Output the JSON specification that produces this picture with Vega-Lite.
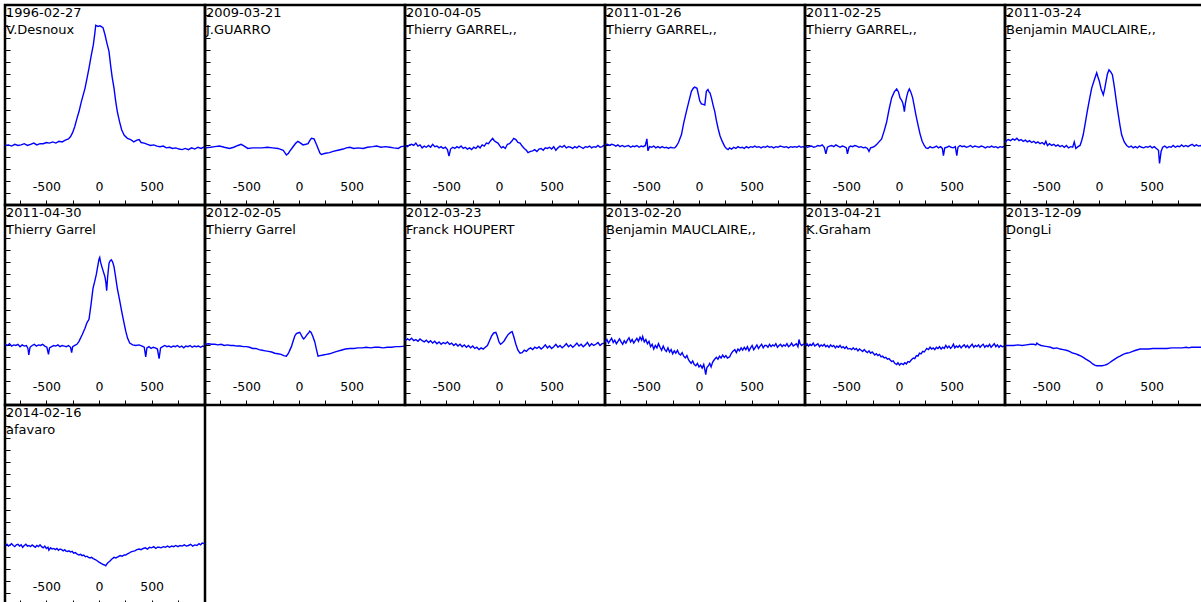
{
"$schema":"https://vega.github.io/schema/vega-lite/v6.json",
"padding":{"left":1,"top":3,"right":0,"bottom":0},
"background":"white",
"data":{"values":[
{"p":1,"d":"1996-02-27","n":"V.Desnoux"},
{"p":2,"d":"2009-03-21","n":"J.GUARRO"},
{"p":3,"d":"2010-04-05","n":"Thierry GARREL,,"},
{"p":4,"d":"2011-01-26","n":"Thierry GARREL,,"},
{"p":5,"d":"2011-02-25","n":"Thierry GARREL,,"},
{"p":6,"d":"2011-03-24","n":"Benjamin MAUCLAIRE,,"},
{"p":7,"d":"2011-04-30","n":"Thierry Garrel"},
{"p":8,"d":"2012-02-05","n":"Thierry Garrel"},
{"p":9,"d":"2012-03-23","n":"Franck HOUPERT"},
{"p":10,"d":"2013-02-20","n":"Benjamin MAUCLAIRE,,"},
{"p":11,"d":"2013-04-21","n":"K.Graham"},
{"p":12,"d":"2013-12-09","n":"DongLi"},
{"p":13,"d":"2014-02-16","n":"afavaro"},
{"p":1,"x":-890,"y":1.00},{"p":1,"x":-860,"y":1.01},{"p":1,"x":-830,"y":0.99},{"p":1,"x":-800,"y":1.02},{"p":1,"x":-770,"y":1.00},{"p":1,"x":-740,"y":1.01},{"p":1,"x":-710,"y":1.03},{"p":1,"x":-680,"y":1.00},{"p":1,"x":-650,"y":1.02},{"p":1,"x":-620,"y":1.04},{"p":1,"x":-590,"y":1.01},{"p":1,"x":-560,"y":1.03},{"p":1,"x":-530,"y":1.03},{"p":1,"x":-500,"y":1.05},{"p":1,"x":-470,"y":1.04},{"p":1,"x":-440,"y":1.06},{"p":1,"x":-410,"y":1.04},{"p":1,"x":-380,"y":1.07},{"p":1,"x":-350,"y":1.06},{"p":1,"x":-320,"y":1.09},{"p":1,"x":-290,"y":1.11},{"p":1,"x":-270,"y":1.15},{"p":1,"x":-250,"y":1.22},{"p":1,"x":-230,"y":1.32},{"p":1,"x":-210,"y":1.45},{"p":1,"x":-190,"y":1.57},{"p":1,"x":-170,"y":1.72},{"p":1,"x":-150,"y":1.85},{"p":1,"x":-133,"y":1.96},{"p":1,"x":-115,"y":2.12},{"p":1,"x":-95,"y":2.30},{"p":1,"x":-75,"y":2.50},{"p":1,"x":-54,"y":2.69},{"p":1,"x":-40,"y":2.88},{"p":1,"x":-31,"y":3.02},{"p":1,"x":-10,"y":3.00},{"p":1,"x":10,"y":3.01},{"p":1,"x":38,"y":2.98},{"p":1,"x":57,"y":2.86},{"p":1,"x":75,"y":2.72},{"p":1,"x":95,"y":2.58},{"p":1,"x":110,"y":2.35},{"p":1,"x":125,"y":2.15},{"p":1,"x":143,"y":1.96},{"p":1,"x":158,"y":1.75},{"p":1,"x":174,"y":1.57},{"p":1,"x":195,"y":1.40},{"p":1,"x":216,"y":1.26},{"p":1,"x":240,"y":1.17},{"p":1,"x":270,"y":1.12},{"p":1,"x":300,"y":1.10},{"p":1,"x":330,"y":1.06},{"p":1,"x":360,"y":1.09},{"p":1,"x":381,"y":1.10},{"p":1,"x":400,"y":1.05},{"p":1,"x":430,"y":1.04},{"p":1,"x":460,"y":1.02},{"p":1,"x":490,"y":1.00},{"p":1,"x":520,"y":1.01},{"p":1,"x":550,"y":0.99},{"p":1,"x":580,"y":0.98},{"p":1,"x":610,"y":0.99},{"p":1,"x":640,"y":0.96},{"p":1,"x":670,"y":0.97},{"p":1,"x":700,"y":0.95},{"p":1,"x":730,"y":0.96},{"p":1,"x":760,"y":0.94},{"p":1,"x":790,"y":0.93},{"p":1,"x":820,"y":0.95},{"p":1,"x":850,"y":0.93},{"p":1,"x":880,"y":0.96},{"p":1,"x":910,"y":0.94},{"p":1,"x":940,"y":0.97},{"p":1,"x":970,"y":0.95},{"p":1,"x":1005,"y":0.98},
{"p":2,"x":-890,"y":0.96},{"p":2,"x":-840,"y":0.97},{"p":2,"x":-800,"y":0.98},{"p":2,"x":-755,"y":0.99},{"p":2,"x":-710,"y":0.97},{"p":2,"x":-660,"y":0.95},{"p":2,"x":-620,"y":0.97},{"p":2,"x":-580,"y":1.00},{"p":2,"x":-550,"y":1.02},{"p":2,"x":-520,"y":0.99},{"p":2,"x":-486,"y":0.95},{"p":2,"x":-440,"y":0.96},{"p":2,"x":-400,"y":0.96},{"p":2,"x":-350,"y":0.96},{"p":2,"x":-300,"y":0.97},{"p":2,"x":-250,"y":0.96},{"p":2,"x":-200,"y":0.95},{"p":2,"x":-150,"y":0.92},{"p":2,"x":-120,"y":0.84},{"p":2,"x":-100,"y":0.87},{"p":2,"x":-89,"y":0.90},{"p":2,"x":-60,"y":0.97},{"p":2,"x":-30,"y":1.04},{"p":2,"x":-10,"y":1.07},{"p":2,"x":15,"y":1.04},{"p":2,"x":38,"y":1.01},{"p":2,"x":65,"y":1.02},{"p":2,"x":86,"y":1.03},{"p":2,"x":105,"y":1.09},{"p":2,"x":118,"y":1.12},{"p":2,"x":143,"y":1.11},{"p":2,"x":165,"y":1.02},{"p":2,"x":181,"y":0.95},{"p":2,"x":200,"y":0.87},{"p":2,"x":213,"y":0.85},{"p":2,"x":250,"y":0.87},{"p":2,"x":290,"y":0.88},{"p":2,"x":324,"y":0.90},{"p":2,"x":370,"y":0.92},{"p":2,"x":420,"y":0.94},{"p":2,"x":450,"y":0.96},{"p":2,"x":483,"y":0.97},{"p":2,"x":520,"y":0.95},{"p":2,"x":560,"y":0.96},{"p":2,"x":610,"y":0.95},{"p":2,"x":650,"y":0.97},{"p":2,"x":700,"y":0.98},{"p":2,"x":737,"y":0.99},{"p":2,"x":780,"y":0.97},{"p":2,"x":820,"y":0.98},{"p":2,"x":864,"y":0.97},{"p":2,"x":900,"y":0.96},{"p":2,"x":943,"y":0.95},{"p":2,"x":970,"y":0.98},{"p":2,"x":1005,"y":0.99},
{"p":3,"x":-890,"y":1.00},{"p":3,"x":-870,"y":0.98},{"p":3,"x":-850,"y":1.01},{"p":3,"x":-830,"y":1.02},{"p":3,"x":-810,"y":1.00},{"p":3,"x":-790,"y":1.04},{"p":3,"x":-770,"y":0.99},{"p":3,"x":-750,"y":1.01},{"p":3,"x":-730,"y":0.96},{"p":3,"x":-710,"y":0.99},{"p":3,"x":-690,"y":0.97},{"p":3,"x":-670,"y":1.00},{"p":3,"x":-650,"y":0.97},{"p":3,"x":-630,"y":1.02},{"p":3,"x":-610,"y":0.98},{"p":3,"x":-590,"y":0.99},{"p":3,"x":-570,"y":0.96},{"p":3,"x":-550,"y":0.98},{"p":3,"x":-530,"y":0.95},{"p":3,"x":-510,"y":0.97},{"p":3,"x":-490,"y":0.93},{"p":3,"x":-475,"y":0.82},{"p":3,"x":-460,"y":0.94},{"p":3,"x":-440,"y":0.97},{"p":3,"x":-420,"y":0.95},{"p":3,"x":-400,"y":0.98},{"p":3,"x":-380,"y":0.96},{"p":3,"x":-360,"y":0.99},{"p":3,"x":-340,"y":0.95},{"p":3,"x":-320,"y":0.97},{"p":3,"x":-300,"y":0.94},{"p":3,"x":-280,"y":0.96},{"p":3,"x":-260,"y":0.93},{"p":3,"x":-240,"y":0.97},{"p":3,"x":-220,"y":0.95},{"p":3,"x":-200,"y":0.99},{"p":3,"x":-180,"y":0.96},{"p":3,"x":-160,"y":1.01},{"p":3,"x":-140,"y":0.99},{"p":3,"x":-120,"y":1.04},{"p":3,"x":-100,"y":1.03},{"p":3,"x":-80,"y":1.08},{"p":3,"x":-60,"y":1.12},{"p":3,"x":-45,"y":1.08},{"p":3,"x":-30,"y":1.06},{"p":3,"x":-10,"y":1.04},{"p":3,"x":10,"y":0.99},{"p":3,"x":23,"y":0.96},{"p":3,"x":40,"y":0.98},{"p":3,"x":60,"y":0.95},{"p":3,"x":80,"y":1.02},{"p":3,"x":100,"y":1.03},{"p":3,"x":120,"y":1.07},{"p":3,"x":140,"y":1.12},{"p":3,"x":160,"y":1.10},{"p":3,"x":180,"y":1.05},{"p":3,"x":200,"y":1.04},{"p":3,"x":220,"y":0.99},{"p":3,"x":240,"y":0.95},{"p":3,"x":260,"y":0.92},{"p":3,"x":276,"y":0.88},{"p":3,"x":300,"y":0.90},{"p":3,"x":320,"y":0.91},{"p":3,"x":340,"y":0.93},{"p":3,"x":360,"y":0.90},{"p":3,"x":380,"y":0.94},{"p":3,"x":400,"y":0.95},{"p":3,"x":420,"y":0.92},{"p":3,"x":440,"y":0.96},{"p":3,"x":460,"y":0.95},{"p":3,"x":480,"y":0.97},{"p":3,"x":500,"y":0.94},{"p":3,"x":520,"y":0.98},{"p":3,"x":540,"y":0.92},{"p":3,"x":560,"y":0.96},{"p":3,"x":580,"y":0.99},{"p":3,"x":600,"y":0.97},{"p":3,"x":620,"y":1.00},{"p":3,"x":640,"y":0.96},{"p":3,"x":660,"y":0.98},{"p":3,"x":680,"y":0.97},{"p":3,"x":700,"y":0.95},{"p":3,"x":720,"y":0.98},{"p":3,"x":740,"y":0.96},{"p":3,"x":760,"y":0.99},{"p":3,"x":780,"y":0.97},{"p":3,"x":800,"y":0.95},{"p":3,"x":820,"y":0.98},{"p":3,"x":840,"y":0.97},{"p":3,"x":860,"y":0.99},{"p":3,"x":880,"y":0.96},{"p":3,"x":900,"y":0.98},{"p":3,"x":920,"y":0.97},{"p":3,"x":940,"y":1.00},{"p":3,"x":960,"y":0.97},{"p":3,"x":980,"y":0.98},{"p":3,"x":1005,"y":1.01},
{"p":4,"x":-890,"y":1.01},{"p":4,"x":-870,"y":1.02},{"p":4,"x":-850,"y":1.00},{"p":4,"x":-830,"y":1.02},{"p":4,"x":-810,"y":1.01},{"p":4,"x":-790,"y":0.99},{"p":4,"x":-770,"y":1.01},{"p":4,"x":-750,"y":0.98},{"p":4,"x":-730,"y":1.00},{"p":4,"x":-710,"y":0.98},{"p":4,"x":-690,"y":0.99},{"p":4,"x":-670,"y":1.00},{"p":4,"x":-650,"y":0.97},{"p":4,"x":-630,"y":0.99},{"p":4,"x":-610,"y":0.98},{"p":4,"x":-590,"y":1.00},{"p":4,"x":-570,"y":0.97},{"p":4,"x":-550,"y":0.99},{"p":4,"x":-530,"y":0.98},{"p":4,"x":-510,"y":1.00},{"p":4,"x":-495,"y":1.11},{"p":4,"x":-485,"y":0.91},{"p":4,"x":-470,"y":0.98},{"p":4,"x":-450,"y":0.97},{"p":4,"x":-430,"y":0.99},{"p":4,"x":-410,"y":0.96},{"p":4,"x":-390,"y":0.98},{"p":4,"x":-370,"y":0.96},{"p":4,"x":-350,"y":0.98},{"p":4,"x":-330,"y":0.96},{"p":4,"x":-310,"y":0.97},{"p":4,"x":-290,"y":0.95},{"p":4,"x":-270,"y":0.97},{"p":4,"x":-250,"y":0.96},{"p":4,"x":-230,"y":0.96},{"p":4,"x":-215,"y":0.99},{"p":4,"x":-195,"y":1.05},{"p":4,"x":-180,"y":1.12},{"p":4,"x":-167,"y":1.18},{"p":4,"x":-145,"y":1.38},{"p":4,"x":-120,"y":1.57},{"p":4,"x":-95,"y":1.75},{"p":4,"x":-72,"y":1.91},{"p":4,"x":-55,"y":1.96},{"p":4,"x":-41,"y":1.98},{"p":4,"x":-19,"y":1.96},{"p":4,"x":-5,"y":1.85},{"p":4,"x":7,"y":1.75},{"p":4,"x":23,"y":1.70},{"p":4,"x":40,"y":1.69},{"p":4,"x":55,"y":1.68},{"p":4,"x":70,"y":1.91},{"p":4,"x":85,"y":1.94},{"p":4,"x":95,"y":1.90},{"p":4,"x":105,"y":1.88},{"p":4,"x":118,"y":1.80},{"p":4,"x":135,"y":1.67},{"p":4,"x":150,"y":1.57},{"p":4,"x":165,"y":1.42},{"p":4,"x":181,"y":1.29},{"p":4,"x":200,"y":1.16},{"p":4,"x":223,"y":1.06},{"p":4,"x":245,"y":0.98},{"p":4,"x":260,"y":0.95},{"p":4,"x":276,"y":0.93},{"p":4,"x":290,"y":0.96},{"p":4,"x":310,"y":0.94},{"p":4,"x":330,"y":0.97},{"p":4,"x":350,"y":0.95},{"p":4,"x":370,"y":0.98},{"p":4,"x":390,"y":0.96},{"p":4,"x":410,"y":0.97},{"p":4,"x":430,"y":0.95},{"p":4,"x":450,"y":0.98},{"p":4,"x":470,"y":0.96},{"p":4,"x":490,"y":0.98},{"p":4,"x":510,"y":0.97},{"p":4,"x":530,"y":0.99},{"p":4,"x":550,"y":0.97},{"p":4,"x":570,"y":0.98},{"p":4,"x":590,"y":0.96},{"p":4,"x":610,"y":0.98},{"p":4,"x":630,"y":0.97},{"p":4,"x":650,"y":0.99},{"p":4,"x":670,"y":0.97},{"p":4,"x":690,"y":0.98},{"p":4,"x":710,"y":0.96},{"p":4,"x":730,"y":0.98},{"p":4,"x":750,"y":0.97},{"p":4,"x":770,"y":0.99},{"p":4,"x":790,"y":0.98},{"p":4,"x":810,"y":0.97},{"p":4,"x":830,"y":0.98},{"p":4,"x":850,"y":0.96},{"p":4,"x":870,"y":0.98},{"p":4,"x":890,"y":0.97},{"p":4,"x":910,"y":0.98},{"p":4,"x":930,"y":0.97},{"p":4,"x":950,"y":0.99},{"p":4,"x":970,"y":0.97},{"p":4,"x":990,"y":0.98},{"p":4,"x":1005,"y":0.97},
{"p":5,"x":-890,"y":0.99},{"p":5,"x":-870,"y":0.97},{"p":5,"x":-850,"y":0.98},{"p":5,"x":-830,"y":0.99},{"p":5,"x":-810,"y":0.97},{"p":5,"x":-790,"y":0.98},{"p":5,"x":-770,"y":1.00},{"p":5,"x":-750,"y":0.99},{"p":5,"x":-730,"y":1.01},{"p":5,"x":-710,"y":0.97},{"p":5,"x":-695,"y":0.86},{"p":5,"x":-680,"y":0.97},{"p":5,"x":-660,"y":0.99},{"p":5,"x":-640,"y":1.00},{"p":5,"x":-620,"y":0.98},{"p":5,"x":-600,"y":1.01},{"p":5,"x":-580,"y":0.99},{"p":5,"x":-560,"y":0.97},{"p":5,"x":-540,"y":0.99},{"p":5,"x":-520,"y":0.98},{"p":5,"x":-500,"y":0.96},{"p":5,"x":-490,"y":0.86},{"p":5,"x":-475,"y":0.97},{"p":5,"x":-460,"y":0.99},{"p":5,"x":-440,"y":0.98},{"p":5,"x":-420,"y":1.00},{"p":5,"x":-400,"y":0.99},{"p":5,"x":-380,"y":0.97},{"p":5,"x":-360,"y":0.98},{"p":5,"x":-340,"y":0.96},{"p":5,"x":-320,"y":0.97},{"p":5,"x":-300,"y":0.95},{"p":5,"x":-285,"y":0.90},{"p":5,"x":-270,"y":0.96},{"p":5,"x":-250,"y":0.97},{"p":5,"x":-230,"y":0.99},{"p":5,"x":-210,"y":1.02},{"p":5,"x":-190,"y":1.06},{"p":5,"x":-165,"y":1.11},{"p":5,"x":-140,"y":1.25},{"p":5,"x":-118,"y":1.39},{"p":5,"x":-95,"y":1.60},{"p":5,"x":-70,"y":1.80},{"p":5,"x":-45,"y":1.90},{"p":5,"x":-22,"y":1.95},{"p":5,"x":-5,"y":1.90},{"p":5,"x":10,"y":1.80},{"p":5,"x":25,"y":1.76},{"p":5,"x":35,"y":1.72},{"p":5,"x":45,"y":1.64},{"p":5,"x":51,"y":1.57},{"p":5,"x":60,"y":1.70},{"p":5,"x":73,"y":1.82},{"p":5,"x":85,"y":1.90},{"p":5,"x":98,"y":1.95},{"p":5,"x":112,"y":1.90},{"p":5,"x":130,"y":1.80},{"p":5,"x":145,"y":1.66},{"p":5,"x":161,"y":1.51},{"p":5,"x":180,"y":1.35},{"p":5,"x":199,"y":1.20},{"p":5,"x":220,"y":1.07},{"p":5,"x":240,"y":1.00},{"p":5,"x":256,"y":0.96},{"p":5,"x":275,"y":0.95},{"p":5,"x":295,"y":0.98},{"p":5,"x":315,"y":0.96},{"p":5,"x":335,"y":0.97},{"p":5,"x":355,"y":0.99},{"p":5,"x":375,"y":0.96},{"p":5,"x":395,"y":0.98},{"p":5,"x":412,"y":0.95},{"p":5,"x":422,"y":0.83},{"p":5,"x":435,"y":0.96},{"p":5,"x":455,"y":0.97},{"p":5,"x":475,"y":0.99},{"p":5,"x":495,"y":0.97},{"p":5,"x":515,"y":0.96},{"p":5,"x":535,"y":0.98},{"p":5,"x":549,"y":0.83},{"p":5,"x":560,"y":0.97},{"p":5,"x":580,"y":1.00},{"p":5,"x":600,"y":0.98},{"p":5,"x":620,"y":0.99},{"p":5,"x":640,"y":0.97},{"p":5,"x":660,"y":0.98},{"p":5,"x":680,"y":1.00},{"p":5,"x":700,"y":0.97},{"p":5,"x":720,"y":0.99},{"p":5,"x":740,"y":0.98},{"p":5,"x":760,"y":0.97},{"p":5,"x":780,"y":0.99},{"p":5,"x":800,"y":0.98},{"p":5,"x":820,"y":0.96},{"p":5,"x":840,"y":0.98},{"p":5,"x":860,"y":0.97},{"p":5,"x":880,"y":0.99},{"p":5,"x":900,"y":0.97},{"p":5,"x":920,"y":0.98},{"p":5,"x":940,"y":0.96},{"p":5,"x":960,"y":0.98},{"p":5,"x":980,"y":0.97},{"p":5,"x":1005,"y":0.99},
{"p":6,"x":-890,"y":1.05},{"p":6,"x":-875,"y":1.09},{"p":6,"x":-860,"y":1.10},{"p":6,"x":-840,"y":1.08},{"p":6,"x":-820,"y":1.11},{"p":6,"x":-800,"y":1.09},{"p":6,"x":-780,"y":1.12},{"p":6,"x":-760,"y":1.08},{"p":6,"x":-740,"y":1.10},{"p":6,"x":-720,"y":1.07},{"p":6,"x":-700,"y":1.09},{"p":6,"x":-680,"y":1.06},{"p":6,"x":-660,"y":1.08},{"p":6,"x":-640,"y":1.05},{"p":6,"x":-620,"y":1.07},{"p":6,"x":-600,"y":1.04},{"p":6,"x":-580,"y":1.06},{"p":6,"x":-560,"y":1.03},{"p":6,"x":-540,"y":1.05},{"p":6,"x":-520,"y":1.02},{"p":6,"x":-505,"y":1.07},{"p":6,"x":-490,"y":1.00},{"p":6,"x":-470,"y":1.03},{"p":6,"x":-450,"y":1.00},{"p":6,"x":-430,"y":1.02},{"p":6,"x":-410,"y":0.99},{"p":6,"x":-390,"y":1.01},{"p":6,"x":-370,"y":0.98},{"p":6,"x":-350,"y":1.00},{"p":6,"x":-330,"y":0.97},{"p":6,"x":-310,"y":1.00},{"p":6,"x":-290,"y":0.96},{"p":6,"x":-270,"y":0.98},{"p":6,"x":-250,"y":0.97},{"p":6,"x":-235,"y":1.06},{"p":6,"x":-220,"y":0.95},{"p":6,"x":-200,"y":0.98},{"p":6,"x":-180,"y":1.00},{"p":6,"x":-165,"y":1.08},{"p":6,"x":-150,"y":1.18},{"p":6,"x":-130,"y":1.38},{"p":6,"x":-112,"y":1.57},{"p":6,"x":-90,"y":1.78},{"p":6,"x":-70,"y":1.96},{"p":6,"x":-45,"y":2.10},{"p":6,"x":-30,"y":2.18},{"p":6,"x":-22,"y":2.22},{"p":6,"x":-10,"y":2.15},{"p":6,"x":3,"y":2.08},{"p":6,"x":20,"y":1.95},{"p":6,"x":41,"y":1.85},{"p":6,"x":55,"y":1.96},{"p":6,"x":67,"y":2.08},{"p":6,"x":80,"y":2.20},{"p":6,"x":95,"y":2.27},{"p":6,"x":110,"y":2.24},{"p":6,"x":127,"y":2.19},{"p":6,"x":140,"y":2.05},{"p":6,"x":152,"y":1.91},{"p":6,"x":168,"y":1.70},{"p":6,"x":184,"y":1.51},{"p":6,"x":200,"y":1.33},{"p":6,"x":215,"y":1.18},{"p":6,"x":240,"y":1.06},{"p":6,"x":263,"y":1.00},{"p":6,"x":285,"y":0.97},{"p":6,"x":305,"y":0.99},{"p":6,"x":325,"y":0.96},{"p":6,"x":345,"y":0.98},{"p":6,"x":365,"y":0.96},{"p":6,"x":385,"y":0.99},{"p":6,"x":405,"y":0.97},{"p":6,"x":425,"y":0.96},{"p":6,"x":445,"y":0.98},{"p":6,"x":465,"y":0.97},{"p":6,"x":485,"y":0.99},{"p":6,"x":505,"y":0.96},{"p":6,"x":525,"y":0.98},{"p":6,"x":545,"y":0.95},{"p":6,"x":565,"y":0.92},{"p":6,"x":575,"y":0.70},{"p":6,"x":590,"y":0.90},{"p":6,"x":605,"y":0.97},{"p":6,"x":625,"y":0.99},{"p":6,"x":645,"y":0.96},{"p":6,"x":665,"y":0.98},{"p":6,"x":685,"y":0.97},{"p":6,"x":705,"y":1.00},{"p":6,"x":725,"y":0.97},{"p":6,"x":745,"y":0.99},{"p":6,"x":765,"y":0.98},{"p":6,"x":785,"y":1.01},{"p":6,"x":805,"y":0.98},{"p":6,"x":825,"y":1.00},{"p":6,"x":845,"y":0.98},{"p":6,"x":865,"y":1.00},{"p":6,"x":885,"y":1.02},{"p":6,"x":905,"y":0.99},{"p":6,"x":925,"y":1.01},{"p":6,"x":945,"y":0.99},{"p":6,"x":965,"y":1.00},{"p":6,"x":985,"y":0.98},{"p":6,"x":1005,"y":1.00},
{"p":7,"x":-890,"y":1.02},{"p":7,"x":-870,"y":1.00},{"p":7,"x":-850,"y":1.03},{"p":7,"x":-830,"y":0.99},{"p":7,"x":-810,"y":1.01},{"p":7,"x":-790,"y":1.00},{"p":7,"x":-770,"y":1.02},{"p":7,"x":-750,"y":0.98},{"p":7,"x":-730,"y":1.01},{"p":7,"x":-710,"y":0.99},{"p":7,"x":-690,"y":1.00},{"p":7,"x":-675,"y":0.95},{"p":7,"x":-667,"y":0.84},{"p":7,"x":-655,"y":0.97},{"p":7,"x":-635,"y":1.00},{"p":7,"x":-615,"y":1.02},{"p":7,"x":-595,"y":0.99},{"p":7,"x":-575,"y":1.01},{"p":7,"x":-555,"y":1.00},{"p":7,"x":-535,"y":1.02},{"p":7,"x":-515,"y":0.99},{"p":7,"x":-495,"y":0.97},{"p":7,"x":-480,"y":0.85},{"p":7,"x":-470,"y":0.96},{"p":7,"x":-450,"y":0.98},{"p":7,"x":-430,"y":1.00},{"p":7,"x":-410,"y":0.99},{"p":7,"x":-390,"y":1.01},{"p":7,"x":-370,"y":0.98},{"p":7,"x":-350,"y":1.00},{"p":7,"x":-330,"y":0.99},{"p":7,"x":-310,"y":0.98},{"p":7,"x":-290,"y":1.00},{"p":7,"x":-270,"y":0.97},{"p":7,"x":-260,"y":0.88},{"p":7,"x":-250,"y":0.98},{"p":7,"x":-230,"y":1.00},{"p":7,"x":-210,"y":1.02},{"p":7,"x":-190,"y":1.07},{"p":7,"x":-160,"y":1.18},{"p":7,"x":-133,"y":1.29},{"p":7,"x":-115,"y":1.38},{"p":7,"x":-95,"y":1.44},{"p":7,"x":-75,"y":1.70},{"p":7,"x":-57,"y":1.96},{"p":7,"x":-40,"y":2.08},{"p":7,"x":-26,"y":2.19},{"p":7,"x":-10,"y":2.35},{"p":7,"x":0,"y":2.45},{"p":7,"x":7,"y":2.48},{"p":7,"x":15,"y":2.40},{"p":7,"x":31,"y":2.30},{"p":7,"x":45,"y":2.22},{"p":7,"x":57,"y":2.15},{"p":7,"x":66,"y":2.05},{"p":7,"x":73,"y":1.92},{"p":7,"x":82,"y":2.15},{"p":7,"x":95,"y":2.38},{"p":7,"x":105,"y":2.42},{"p":7,"x":117,"y":2.44},{"p":7,"x":130,"y":2.40},{"p":7,"x":143,"y":2.32},{"p":7,"x":158,"y":2.15},{"p":7,"x":174,"y":1.96},{"p":7,"x":195,"y":1.77},{"p":7,"x":216,"y":1.57},{"p":7,"x":235,"y":1.40},{"p":7,"x":254,"y":1.24},{"p":7,"x":272,"y":1.12},{"p":7,"x":292,"y":1.04},{"p":7,"x":320,"y":1.01},{"p":7,"x":350,"y":1.00},{"p":7,"x":380,"y":1.01},{"p":7,"x":410,"y":0.99},{"p":7,"x":430,"y":0.97},{"p":7,"x":444,"y":0.81},{"p":7,"x":455,"y":0.96},{"p":7,"x":475,"y":0.98},{"p":7,"x":495,"y":0.95},{"p":7,"x":515,"y":0.97},{"p":7,"x":535,"y":0.96},{"p":7,"x":555,"y":0.94},{"p":7,"x":571,"y":0.78},{"p":7,"x":585,"y":0.96},{"p":7,"x":605,"y":0.98},{"p":7,"x":625,"y":1.00},{"p":7,"x":645,"y":0.98},{"p":7,"x":665,"y":0.99},{"p":7,"x":685,"y":0.97},{"p":7,"x":705,"y":0.99},{"p":7,"x":725,"y":0.98},{"p":7,"x":745,"y":1.00},{"p":7,"x":765,"y":0.97},{"p":7,"x":785,"y":0.99},{"p":7,"x":805,"y":0.96},{"p":7,"x":825,"y":0.99},{"p":7,"x":845,"y":0.98},{"p":7,"x":865,"y":1.00},{"p":7,"x":885,"y":0.97},{"p":7,"x":905,"y":0.99},{"p":7,"x":925,"y":0.98},{"p":7,"x":945,"y":0.99},{"p":7,"x":965,"y":0.97},{"p":7,"x":985,"y":0.99},{"p":7,"x":1005,"y":0.98},
{"p":8,"x":-890,"y":1.02},{"p":8,"x":-860,"y":1.03},{"p":8,"x":-830,"y":1.02},{"p":8,"x":-800,"y":1.02},{"p":8,"x":-770,"y":1.01},{"p":8,"x":-740,"y":1.02},{"p":8,"x":-710,"y":1.00},{"p":8,"x":-680,"y":1.01},{"p":8,"x":-650,"y":1.00},{"p":8,"x":-620,"y":1.00},{"p":8,"x":-590,"y":0.99},{"p":8,"x":-560,"y":0.99},{"p":8,"x":-530,"y":0.98},{"p":8,"x":-500,"y":0.98},{"p":8,"x":-470,"y":0.97},{"p":8,"x":-440,"y":0.95},{"p":8,"x":-410,"y":0.95},{"p":8,"x":-380,"y":0.93},{"p":8,"x":-350,"y":0.92},{"p":8,"x":-320,"y":0.91},{"p":8,"x":-290,"y":0.90},{"p":8,"x":-260,"y":0.89},{"p":8,"x":-230,"y":0.87},{"p":8,"x":-200,"y":0.86},{"p":8,"x":-170,"y":0.85},{"p":8,"x":-145,"y":0.83},{"p":8,"x":-120,"y":0.82},{"p":8,"x":-100,"y":0.87},{"p":8,"x":-85,"y":0.93},{"p":8,"x":-72,"y":0.98},{"p":8,"x":-55,"y":1.08},{"p":8,"x":-40,"y":1.16},{"p":8,"x":-25,"y":1.20},{"p":8,"x":-10,"y":1.21},{"p":8,"x":7,"y":1.22},{"p":8,"x":20,"y":1.18},{"p":8,"x":35,"y":1.13},{"p":8,"x":45,"y":1.11},{"p":8,"x":60,"y":1.14},{"p":8,"x":80,"y":1.19},{"p":8,"x":95,"y":1.22},{"p":8,"x":102,"y":1.24},{"p":8,"x":115,"y":1.22},{"p":8,"x":130,"y":1.16},{"p":8,"x":150,"y":1.06},{"p":8,"x":165,"y":0.94},{"p":8,"x":181,"y":0.82},{"p":8,"x":200,"y":0.83},{"p":8,"x":230,"y":0.84},{"p":8,"x":260,"y":0.85},{"p":8,"x":290,"y":0.86},{"p":8,"x":324,"y":0.88},{"p":8,"x":360,"y":0.90},{"p":8,"x":400,"y":0.92},{"p":8,"x":440,"y":0.94},{"p":8,"x":483,"y":0.95},{"p":8,"x":520,"y":0.95},{"p":8,"x":560,"y":0.96},{"p":8,"x":600,"y":0.96},{"p":8,"x":640,"y":0.97},{"p":8,"x":680,"y":0.96},{"p":8,"x":720,"y":0.97},{"p":8,"x":760,"y":0.97},{"p":8,"x":800,"y":0.96},{"p":8,"x":840,"y":0.97},{"p":8,"x":880,"y":0.97},{"p":8,"x":920,"y":0.98},{"p":8,"x":960,"y":0.98},{"p":8,"x":1005,"y":0.99},
{"p":9,"x":-890,"y":1.08},{"p":9,"x":-870,"y":1.11},{"p":9,"x":-850,"y":1.09},{"p":9,"x":-830,"y":1.12},{"p":9,"x":-810,"y":1.08},{"p":9,"x":-790,"y":1.10},{"p":9,"x":-770,"y":1.07},{"p":9,"x":-750,"y":1.11},{"p":9,"x":-730,"y":1.08},{"p":9,"x":-710,"y":1.06},{"p":9,"x":-690,"y":1.09},{"p":9,"x":-670,"y":1.05},{"p":9,"x":-650,"y":1.08},{"p":9,"x":-630,"y":1.04},{"p":9,"x":-610,"y":1.07},{"p":9,"x":-590,"y":1.03},{"p":9,"x":-570,"y":1.06},{"p":9,"x":-550,"y":1.02},{"p":9,"x":-530,"y":1.05},{"p":9,"x":-510,"y":1.03},{"p":9,"x":-490,"y":1.06},{"p":9,"x":-470,"y":1.02},{"p":9,"x":-450,"y":1.04},{"p":9,"x":-430,"y":1.00},{"p":9,"x":-410,"y":1.03},{"p":9,"x":-390,"y":0.99},{"p":9,"x":-370,"y":1.02},{"p":9,"x":-350,"y":0.98},{"p":9,"x":-330,"y":1.01},{"p":9,"x":-310,"y":0.97},{"p":9,"x":-290,"y":1.00},{"p":9,"x":-270,"y":0.96},{"p":9,"x":-250,"y":0.99},{"p":9,"x":-230,"y":0.95},{"p":9,"x":-210,"y":0.97},{"p":9,"x":-190,"y":0.93},{"p":9,"x":-170,"y":0.96},{"p":9,"x":-150,"y":0.94},{"p":9,"x":-130,"y":0.97},{"p":9,"x":-110,"y":1.00},{"p":9,"x":-90,"y":1.08},{"p":9,"x":-70,"y":1.16},{"p":9,"x":-50,"y":1.21},{"p":9,"x":-30,"y":1.22},{"p":9,"x":-15,"y":1.15},{"p":9,"x":0,"y":1.06},{"p":9,"x":15,"y":1.02},{"p":9,"x":30,"y":1.04},{"p":9,"x":50,"y":1.08},{"p":9,"x":70,"y":1.14},{"p":9,"x":90,"y":1.19},{"p":9,"x":110,"y":1.22},{"p":9,"x":125,"y":1.23},{"p":9,"x":140,"y":1.15},{"p":9,"x":160,"y":1.02},{"p":9,"x":180,"y":0.92},{"p":9,"x":200,"y":0.87},{"p":9,"x":220,"y":0.88},{"p":9,"x":240,"y":0.92},{"p":9,"x":260,"y":0.90},{"p":9,"x":280,"y":0.94},{"p":9,"x":300,"y":0.96},{"p":9,"x":320,"y":0.93},{"p":9,"x":340,"y":0.97},{"p":9,"x":360,"y":0.95},{"p":9,"x":380,"y":0.98},{"p":9,"x":400,"y":0.94},{"p":9,"x":420,"y":0.97},{"p":9,"x":440,"y":1.01},{"p":9,"x":460,"y":0.96},{"p":9,"x":480,"y":0.99},{"p":9,"x":500,"y":0.95},{"p":9,"x":520,"y":0.98},{"p":9,"x":540,"y":1.02},{"p":9,"x":560,"y":0.97},{"p":9,"x":580,"y":1.00},{"p":9,"x":600,"y":0.96},{"p":9,"x":620,"y":0.99},{"p":9,"x":640,"y":1.03},{"p":9,"x":660,"y":0.98},{"p":9,"x":680,"y":1.01},{"p":9,"x":700,"y":0.97},{"p":9,"x":720,"y":1.00},{"p":9,"x":740,"y":1.04},{"p":9,"x":760,"y":0.99},{"p":9,"x":780,"y":1.02},{"p":9,"x":800,"y":0.98},{"p":9,"x":820,"y":1.01},{"p":9,"x":840,"y":1.05},{"p":9,"x":860,"y":0.99},{"p":9,"x":880,"y":1.03},{"p":9,"x":900,"y":1.00},{"p":9,"x":920,"y":1.02},{"p":9,"x":940,"y":1.05},{"p":9,"x":960,"y":1.00},{"p":9,"x":980,"y":1.03},{"p":9,"x":1005,"y":1.04},
{"p":10,"x":-890,"y":1.06},{"p":10,"x":-875,"y":1.10},{"p":10,"x":-860,"y":1.04},{"p":10,"x":-845,"y":1.08},{"p":10,"x":-830,"y":1.12},{"p":10,"x":-815,"y":1.05},{"p":10,"x":-800,"y":1.09},{"p":10,"x":-785,"y":1.03},{"p":10,"x":-770,"y":1.07},{"p":10,"x":-755,"y":1.11},{"p":10,"x":-740,"y":1.06},{"p":10,"x":-725,"y":1.02},{"p":10,"x":-710,"y":1.08},{"p":10,"x":-695,"y":1.04},{"p":10,"x":-680,"y":1.09},{"p":10,"x":-665,"y":1.13},{"p":10,"x":-650,"y":1.06},{"p":10,"x":-635,"y":1.10},{"p":10,"x":-620,"y":1.04},{"p":10,"x":-605,"y":1.08},{"p":10,"x":-590,"y":1.12},{"p":10,"x":-575,"y":1.07},{"p":10,"x":-560,"y":1.14},{"p":10,"x":-545,"y":1.09},{"p":10,"x":-535,"y":1.15},{"p":10,"x":-520,"y":1.06},{"p":10,"x":-505,"y":1.10},{"p":10,"x":-490,"y":1.03},{"p":10,"x":-475,"y":1.07},{"p":10,"x":-460,"y":0.98},{"p":10,"x":-445,"y":1.02},{"p":10,"x":-430,"y":0.94},{"p":10,"x":-415,"y":1.00},{"p":10,"x":-400,"y":0.96},{"p":10,"x":-385,"y":1.03},{"p":10,"x":-370,"y":0.97},{"p":10,"x":-355,"y":0.92},{"p":10,"x":-340,"y":0.99},{"p":10,"x":-325,"y":0.93},{"p":10,"x":-310,"y":0.90},{"p":10,"x":-295,"y":0.96},{"p":10,"x":-280,"y":0.89},{"p":10,"x":-265,"y":0.93},{"p":10,"x":-250,"y":0.86},{"p":10,"x":-235,"y":0.91},{"p":10,"x":-220,"y":0.87},{"p":10,"x":-205,"y":0.92},{"p":10,"x":-190,"y":0.86},{"p":10,"x":-175,"y":0.84},{"p":10,"x":-160,"y":0.88},{"p":10,"x":-145,"y":0.82},{"p":10,"x":-130,"y":0.79},{"p":10,"x":-115,"y":0.83},{"p":10,"x":-100,"y":0.76},{"p":10,"x":-88,"y":0.73},{"p":10,"x":-75,"y":0.70},{"p":10,"x":-60,"y":0.74},{"p":10,"x":-45,"y":0.68},{"p":10,"x":-30,"y":0.66},{"p":10,"x":-15,"y":0.70},{"p":10,"x":0,"y":0.64},{"p":10,"x":15,"y":0.67},{"p":10,"x":30,"y":0.62},{"p":10,"x":45,"y":0.68},{"p":10,"x":55,"y":0.60},{"p":10,"x":64,"y":0.51},{"p":10,"x":75,"y":0.63},{"p":10,"x":90,"y":0.66},{"p":10,"x":102,"y":0.70},{"p":10,"x":115,"y":0.64},{"p":10,"x":130,"y":0.72},{"p":10,"x":145,"y":0.76},{"p":10,"x":165,"y":0.80},{"p":10,"x":180,"y":0.77},{"p":10,"x":195,"y":0.82},{"p":10,"x":210,"y":0.79},{"p":10,"x":225,"y":0.84},{"p":10,"x":240,"y":0.80},{"p":10,"x":255,"y":0.83},{"p":10,"x":270,"y":0.79},{"p":10,"x":292,"y":0.81},{"p":10,"x":305,"y":0.86},{"p":10,"x":320,"y":0.90},{"p":10,"x":340,"y":0.93},{"p":10,"x":355,"y":0.88},{"p":10,"x":370,"y":0.94},{"p":10,"x":385,"y":0.91},{"p":10,"x":400,"y":0.96},{"p":10,"x":415,"y":0.92},{"p":10,"x":430,"y":0.97},{"p":10,"x":445,"y":0.93},{"p":10,"x":460,"y":0.98},{"p":10,"x":475,"y":0.91},{"p":10,"x":490,"y":0.96},{"p":10,"x":505,"y":1.00},{"p":10,"x":520,"y":0.93},{"p":10,"x":535,"y":0.97},{"p":10,"x":550,"y":1.01},{"p":10,"x":565,"y":0.95},{"p":10,"x":580,"y":0.99},{"p":10,"x":595,"y":1.02},{"p":10,"x":610,"y":0.96},{"p":10,"x":625,"y":1.00},{"p":10,"x":641,"y":1.00},{"p":10,"x":655,"y":0.97},{"p":10,"x":670,"y":1.02},{"p":10,"x":685,"y":0.98},{"p":10,"x":700,"y":1.01},{"p":10,"x":715,"y":0.99},{"p":10,"x":730,"y":1.03},{"p":10,"x":745,"y":0.97},{"p":10,"x":760,"y":1.00},{"p":10,"x":775,"y":1.02},{"p":10,"x":790,"y":0.98},{"p":10,"x":805,"y":1.01},{"p":10,"x":820,"y":0.99},{"p":10,"x":835,"y":1.03},{"p":10,"x":850,"y":0.98},{"p":10,"x":865,"y":1.00},{"p":10,"x":880,"y":1.04},{"p":10,"x":895,"y":0.99},{"p":10,"x":910,"y":1.01},{"p":10,"x":925,"y":1.03},{"p":10,"x":940,"y":0.98},{"p":10,"x":950,"y":1.10},{"p":10,"x":960,"y":1.03},{"p":10,"x":975,"y":1.00},{"p":10,"x":990,"y":1.02},{"p":10,"x":1005,"y":1.03},
{"p":11,"x":-890,"y":1.00},{"p":11,"x":-875,"y":1.03},{"p":11,"x":-860,"y":0.99},{"p":11,"x":-845,"y":1.02},{"p":11,"x":-830,"y":1.00},{"p":11,"x":-815,"y":1.04},{"p":11,"x":-800,"y":0.99},{"p":11,"x":-785,"y":1.01},{"p":11,"x":-770,"y":1.03},{"p":11,"x":-755,"y":0.98},{"p":11,"x":-740,"y":1.01},{"p":11,"x":-725,"y":0.99},{"p":11,"x":-710,"y":1.02},{"p":11,"x":-695,"y":0.98},{"p":11,"x":-680,"y":1.00},{"p":11,"x":-665,"y":0.97},{"p":11,"x":-650,"y":1.01},{"p":11,"x":-635,"y":0.98},{"p":11,"x":-620,"y":1.00},{"p":11,"x":-605,"y":0.96},{"p":11,"x":-590,"y":0.99},{"p":11,"x":-575,"y":0.97},{"p":11,"x":-560,"y":1.00},{"p":11,"x":-545,"y":0.96},{"p":11,"x":-530,"y":0.98},{"p":11,"x":-515,"y":0.95},{"p":11,"x":-500,"y":0.98},{"p":11,"x":-485,"y":0.94},{"p":11,"x":-466,"y":0.95},{"p":11,"x":-450,"y":0.93},{"p":11,"x":-435,"y":0.96},{"p":11,"x":-420,"y":0.93},{"p":11,"x":-405,"y":0.95},{"p":11,"x":-390,"y":0.91},{"p":11,"x":-375,"y":0.94},{"p":11,"x":-360,"y":0.92},{"p":11,"x":-345,"y":0.90},{"p":11,"x":-330,"y":0.93},{"p":11,"x":-315,"y":0.90},{"p":11,"x":-300,"y":0.88},{"p":11,"x":-285,"y":0.91},{"p":11,"x":-270,"y":0.87},{"p":11,"x":-255,"y":0.89},{"p":11,"x":-244,"y":0.87},{"p":11,"x":-230,"y":0.84},{"p":11,"x":-215,"y":0.86},{"p":11,"x":-200,"y":0.83},{"p":11,"x":-185,"y":0.85},{"p":11,"x":-170,"y":0.81},{"p":11,"x":-155,"y":0.82},{"p":11,"x":-140,"y":0.79},{"p":11,"x":-125,"y":0.80},{"p":11,"x":-110,"y":0.77},{"p":11,"x":-95,"y":0.78},{"p":11,"x":-86,"y":0.76},{"p":11,"x":-70,"y":0.73},{"p":11,"x":-55,"y":0.74},{"p":11,"x":-40,"y":0.70},{"p":11,"x":-22,"y":0.68},{"p":11,"x":-10,"y":0.71},{"p":11,"x":5,"y":0.67},{"p":11,"x":20,"y":0.70},{"p":11,"x":41,"y":0.68},{"p":11,"x":55,"y":0.71},{"p":11,"x":70,"y":0.69},{"p":11,"x":85,"y":0.73},{"p":11,"x":100,"y":0.72},{"p":11,"x":118,"y":0.76},{"p":11,"x":136,"y":0.79},{"p":11,"x":150,"y":0.78},{"p":11,"x":165,"y":0.83},{"p":11,"x":180,"y":0.82},{"p":11,"x":195,"y":0.87},{"p":11,"x":210,"y":0.86},{"p":11,"x":225,"y":0.90},{"p":11,"x":240,"y":0.89},{"p":11,"x":263,"y":0.95},{"p":11,"x":280,"y":0.93},{"p":11,"x":295,"y":0.97},{"p":11,"x":310,"y":0.94},{"p":11,"x":325,"y":0.96},{"p":11,"x":340,"y":0.93},{"p":11,"x":355,"y":0.97},{"p":11,"x":370,"y":0.95},{"p":11,"x":385,"y":0.98},{"p":11,"x":400,"y":0.94},{"p":11,"x":415,"y":0.97},{"p":11,"x":430,"y":0.95},{"p":11,"x":445,"y":1.00},{"p":11,"x":460,"y":0.96},{"p":11,"x":475,"y":0.99},{"p":11,"x":490,"y":0.95},{"p":11,"x":505,"y":0.98},{"p":11,"x":517,"y":1.02},{"p":11,"x":530,"y":0.96},{"p":11,"x":545,"y":0.99},{"p":11,"x":560,"y":0.97},{"p":11,"x":575,"y":1.00},{"p":11,"x":590,"y":0.96},{"p":11,"x":605,"y":0.99},{"p":11,"x":620,"y":1.01},{"p":11,"x":635,"y":0.97},{"p":11,"x":650,"y":1.00},{"p":11,"x":665,"y":0.96},{"p":11,"x":680,"y":0.99},{"p":11,"x":695,"y":1.02},{"p":11,"x":710,"y":0.97},{"p":11,"x":725,"y":1.00},{"p":11,"x":740,"y":0.98},{"p":11,"x":755,"y":1.01},{"p":11,"x":770,"y":0.97},{"p":11,"x":785,"y":1.00},{"p":11,"x":800,"y":1.02},{"p":11,"x":815,"y":0.97},{"p":11,"x":830,"y":1.00},{"p":11,"x":845,"y":0.98},{"p":11,"x":860,"y":1.02},{"p":11,"x":875,"y":0.97},{"p":11,"x":890,"y":1.00},{"p":11,"x":905,"y":1.03},{"p":11,"x":920,"y":0.98},{"p":11,"x":935,"y":1.01},{"p":11,"x":950,"y":0.97},{"p":11,"x":965,"y":1.00},{"p":11,"x":980,"y":0.98},{"p":11,"x":1005,"y":0.99},
{"p":12,"x":-890,"y":1.00},{"p":12,"x":-850,"y":1.00},{"p":12,"x":-810,"y":1.00},{"p":12,"x":-770,"y":1.01},{"p":12,"x":-730,"y":1.00},{"p":12,"x":-690,"y":1.01},{"p":12,"x":-650,"y":1.02},{"p":12,"x":-620,"y":1.02},{"p":12,"x":-600,"y":1.01},{"p":12,"x":-590,"y":1.04},{"p":12,"x":-575,"y":1.02},{"p":12,"x":-550,"y":1.00},{"p":12,"x":-520,"y":0.99},{"p":12,"x":-490,"y":0.98},{"p":12,"x":-460,"y":0.97},{"p":12,"x":-432,"y":0.95},{"p":12,"x":-400,"y":0.96},{"p":12,"x":-370,"y":0.94},{"p":12,"x":-340,"y":0.93},{"p":12,"x":-310,"y":0.92},{"p":12,"x":-280,"y":0.90},{"p":12,"x":-260,"y":0.88},{"p":12,"x":-242,"y":0.87},{"p":12,"x":-220,"y":0.86},{"p":12,"x":-195,"y":0.84},{"p":12,"x":-170,"y":0.82},{"p":12,"x":-150,"y":0.80},{"p":12,"x":-125,"y":0.77},{"p":12,"x":-105,"y":0.75},{"p":12,"x":-86,"y":0.73},{"p":12,"x":-60,"y":0.69},{"p":12,"x":-40,"y":0.67},{"p":12,"x":-22,"y":0.66},{"p":12,"x":0,"y":0.66},{"p":12,"x":30,"y":0.66},{"p":12,"x":55,"y":0.67},{"p":12,"x":73,"y":0.68},{"p":12,"x":100,"y":0.71},{"p":12,"x":125,"y":0.74},{"p":12,"x":150,"y":0.77},{"p":12,"x":175,"y":0.80},{"p":12,"x":200,"y":0.82},{"p":12,"x":230,"y":0.85},{"p":12,"x":260,"y":0.87},{"p":12,"x":290,"y":0.88},{"p":12,"x":320,"y":0.90},{"p":12,"x":350,"y":0.92},{"p":12,"x":390,"y":0.94},{"p":12,"x":430,"y":0.94},{"p":12,"x":470,"y":0.94},{"p":12,"x":510,"y":0.95},{"p":12,"x":560,"y":0.95},{"p":12,"x":600,"y":0.95},{"p":12,"x":644,"y":0.95},{"p":12,"x":690,"y":0.96},{"p":12,"x":740,"y":0.96},{"p":12,"x":790,"y":0.96},{"p":12,"x":830,"y":0.97},{"p":12,"x":850,"y":0.96},{"p":12,"x":880,"y":0.97},{"p":12,"x":920,"y":0.97},{"p":12,"x":967,"y":0.97},{"p":12,"x":1005,"y":0.98},
{"p":13,"x":-890,"y":1.00},{"p":13,"x":-875,"y":1.02},{"p":13,"x":-860,"y":0.99},{"p":13,"x":-845,"y":1.01},{"p":13,"x":-830,"y":1.03},{"p":13,"x":-815,"y":1.00},{"p":13,"x":-800,"y":0.98},{"p":13,"x":-785,"y":1.01},{"p":13,"x":-770,"y":1.02},{"p":13,"x":-755,"y":0.99},{"p":13,"x":-740,"y":1.01},{"p":13,"x":-725,"y":0.97},{"p":13,"x":-710,"y":1.00},{"p":13,"x":-695,"y":1.02},{"p":13,"x":-680,"y":0.99},{"p":13,"x":-665,"y":1.00},{"p":13,"x":-650,"y":0.98},{"p":13,"x":-635,"y":1.01},{"p":13,"x":-620,"y":0.99},{"p":13,"x":-605,"y":0.97},{"p":13,"x":-590,"y":1.00},{"p":13,"x":-575,"y":0.98},{"p":13,"x":-560,"y":1.01},{"p":13,"x":-545,"y":0.98},{"p":13,"x":-530,"y":0.96},{"p":13,"x":-515,"y":0.99},{"p":13,"x":-500,"y":0.95},{"p":13,"x":-485,"y":0.97},{"p":13,"x":-476,"y":0.92},{"p":13,"x":-460,"y":0.96},{"p":13,"x":-445,"y":0.94},{"p":13,"x":-430,"y":0.95},{"p":13,"x":-415,"y":0.93},{"p":13,"x":-400,"y":0.95},{"p":13,"x":-385,"y":0.92},{"p":13,"x":-370,"y":0.94},{"p":13,"x":-355,"y":0.93},{"p":13,"x":-340,"y":0.91},{"p":13,"x":-325,"y":0.93},{"p":13,"x":-317,"y":0.91},{"p":13,"x":-300,"y":0.90},{"p":13,"x":-285,"y":0.91},{"p":13,"x":-270,"y":0.89},{"p":13,"x":-255,"y":0.90},{"p":13,"x":-240,"y":0.87},{"p":13,"x":-225,"y":0.88},{"p":13,"x":-210,"y":0.86},{"p":13,"x":-190,"y":0.84},{"p":13,"x":-175,"y":0.85},{"p":13,"x":-160,"y":0.83},{"p":13,"x":-145,"y":0.84},{"p":13,"x":-130,"y":0.81},{"p":13,"x":-115,"y":0.82},{"p":13,"x":-100,"y":0.80},{"p":13,"x":-85,"y":0.79},{"p":13,"x":-70,"y":0.80},{"p":13,"x":-55,"y":0.78},{"p":13,"x":-31,"y":0.76},{"p":13,"x":-15,"y":0.74},{"p":13,"x":0,"y":0.72},{"p":13,"x":20,"y":0.70},{"p":13,"x":40,"y":0.68},{"p":13,"x":55,"y":0.67},{"p":13,"x":64,"y":0.66},{"p":13,"x":75,"y":0.69},{"p":13,"x":90,"y":0.72},{"p":13,"x":105,"y":0.74},{"p":13,"x":120,"y":0.77},{"p":13,"x":143,"y":0.80},{"p":13,"x":160,"y":0.79},{"p":13,"x":180,"y":0.81},{"p":13,"x":200,"y":0.83},{"p":13,"x":220,"y":0.82},{"p":13,"x":240,"y":0.84},{"p":13,"x":254,"y":0.84},{"p":13,"x":270,"y":0.86},{"p":13,"x":285,"y":0.87},{"p":13,"x":300,"y":0.89},{"p":13,"x":320,"y":0.90},{"p":13,"x":340,"y":0.91},{"p":13,"x":360,"y":0.93},{"p":13,"x":381,"y":0.94},{"p":13,"x":400,"y":0.93},{"p":13,"x":420,"y":0.95},{"p":13,"x":440,"y":0.96},{"p":13,"x":460,"y":0.94},{"p":13,"x":480,"y":0.97},{"p":13,"x":500,"y":0.96},{"p":13,"x":520,"y":0.98},{"p":13,"x":540,"y":0.95},{"p":13,"x":555,"y":0.97},{"p":13,"x":571,"y":0.97},{"p":13,"x":590,"y":0.96},{"p":13,"x":610,"y":0.98},{"p":13,"x":630,"y":0.97},{"p":13,"x":650,"y":0.99},{"p":13,"x":670,"y":0.97},{"p":13,"x":690,"y":0.99},{"p":13,"x":710,"y":0.98},{"p":13,"x":730,"y":1.00},{"p":13,"x":750,"y":0.98},{"p":13,"x":770,"y":1.00},{"p":13,"x":790,"y":0.99},{"p":13,"x":810,"y":1.01},{"p":13,"x":830,"y":0.99},{"p":13,"x":850,"y":1.00},{"p":13,"x":870,"y":1.02},{"p":13,"x":890,"y":0.99},{"p":13,"x":910,"y":1.01},{"p":13,"x":930,"y":1.00},{"p":13,"x":950,"y":1.03},{"p":13,"x":965,"y":1.01},{"p":13,"x":980,"y":1.04},{"p":13,"x":1005,"y":1.03}
]},
"columns":6,
"spacing":0,
"bounds":"flush",
"concat":[
{"width":200,"height":200,"transform":[{"filter":"datum.p==1"}],"layer":[{"transform":[{"filter":"isValid(datum.x)"}],"mark":"line","encoding":{"x":{"field":"x","type":"quantitative","scale":{"domain":[-893,1007],"nice":false,"zero":false},"axis":{"title":null,"values":[-750,-500,-250,0,250,500,750],"labelExpr":"datum.value==-500?'-500':(datum.value==0?'0':(datum.value==500?'500':''))"}},"y":{"field":"y","type":"quantitative","scale":{"domain":[0,3.36],"nice":false,"zero":false},"axis":{"title":null,"labels":false,"values":[0.2,0.4,0.6,0.8,1,1.2,1.4,1.6,1.8,2,2.2,2.4,2.6,2.8,3,3.2]}}}},{"transform":[{"filter":"isValid(datum.d)"}],"mark":{"type":"text","dy":8},"encoding":{"x":{"datum":-893,"axis":{"title":null,"values":[-750,-500,-250,0,250,500,750],"labelExpr":"datum.value==-500?'-500':(datum.value==0?'0':(datum.value==500?'500':''))"}},"y":{"datum":3.36,"axis":{"title":null,"labels":false,"values":[0.2,0.4,0.6,0.8,1,1.2,1.4,1.6,1.8,2,2.2,2.4,2.6,2.8,3,3.2]}},"text":{"field":"d"}}},{"transform":[{"filter":"isValid(datum.d)"}],"mark":{"type":"text","dy":25},"encoding":{"x":{"datum":-893,"axis":{"title":null,"values":[-750,-500,-250,0,250,500,750],"labelExpr":"datum.value==-500?'-500':(datum.value==0?'0':(datum.value==500?'500':''))"}},"y":{"datum":3.36,"axis":{"title":null,"labels":false,"values":[0.2,0.4,0.6,0.8,1,1.2,1.4,1.6,1.8,2,2.2,2.4,2.6,2.8,3,3.2]}},"text":{"field":"n"}}}]},
{"width":200,"height":200,"transform":[{"filter":"datum.p==2"}],"layer":[{"transform":[{"filter":"isValid(datum.x)"}],"mark":"line","encoding":{"x":{"field":"x","type":"quantitative","scale":{"domain":[-893,1007],"nice":false,"zero":false},"axis":{"title":null,"values":[-750,-500,-250,0,250,500,750],"labelExpr":"datum.value==-500?'-500':(datum.value==0?'0':(datum.value==500?'500':''))"}},"y":{"field":"y","type":"quantitative","scale":{"domain":[0,3.36],"nice":false,"zero":false},"axis":{"title":null,"labels":false,"values":[0.2,0.4,0.6,0.8,1,1.2,1.4,1.6,1.8,2,2.2,2.4,2.6,2.8,3,3.2]}}}},{"transform":[{"filter":"isValid(datum.d)"}],"mark":{"type":"text","dy":8},"encoding":{"x":{"datum":-893,"axis":{"title":null,"values":[-750,-500,-250,0,250,500,750],"labelExpr":"datum.value==-500?'-500':(datum.value==0?'0':(datum.value==500?'500':''))"}},"y":{"datum":3.36,"axis":{"title":null,"labels":false,"values":[0.2,0.4,0.6,0.8,1,1.2,1.4,1.6,1.8,2,2.2,2.4,2.6,2.8,3,3.2]}},"text":{"field":"d"}}},{"transform":[{"filter":"isValid(datum.d)"}],"mark":{"type":"text","dy":25},"encoding":{"x":{"datum":-893,"axis":{"title":null,"values":[-750,-500,-250,0,250,500,750],"labelExpr":"datum.value==-500?'-500':(datum.value==0?'0':(datum.value==500?'500':''))"}},"y":{"datum":3.36,"axis":{"title":null,"labels":false,"values":[0.2,0.4,0.6,0.8,1,1.2,1.4,1.6,1.8,2,2.2,2.4,2.6,2.8,3,3.2]}},"text":{"field":"n"}}}]},
{"width":200,"height":200,"transform":[{"filter":"datum.p==3"}],"layer":[{"transform":[{"filter":"isValid(datum.x)"}],"mark":"line","encoding":{"x":{"field":"x","type":"quantitative","scale":{"domain":[-893,1007],"nice":false,"zero":false},"axis":{"title":null,"values":[-750,-500,-250,0,250,500,750],"labelExpr":"datum.value==-500?'-500':(datum.value==0?'0':(datum.value==500?'500':''))"}},"y":{"field":"y","type":"quantitative","scale":{"domain":[0,3.36],"nice":false,"zero":false},"axis":{"title":null,"labels":false,"values":[0.2,0.4,0.6,0.8,1,1.2,1.4,1.6,1.8,2,2.2,2.4,2.6,2.8,3,3.2]}}}},{"transform":[{"filter":"isValid(datum.d)"}],"mark":{"type":"text","dy":8},"encoding":{"x":{"datum":-893,"axis":{"title":null,"values":[-750,-500,-250,0,250,500,750],"labelExpr":"datum.value==-500?'-500':(datum.value==0?'0':(datum.value==500?'500':''))"}},"y":{"datum":3.36,"axis":{"title":null,"labels":false,"values":[0.2,0.4,0.6,0.8,1,1.2,1.4,1.6,1.8,2,2.2,2.4,2.6,2.8,3,3.2]}},"text":{"field":"d"}}},{"transform":[{"filter":"isValid(datum.d)"}],"mark":{"type":"text","dy":25},"encoding":{"x":{"datum":-893,"axis":{"title":null,"values":[-750,-500,-250,0,250,500,750],"labelExpr":"datum.value==-500?'-500':(datum.value==0?'0':(datum.value==500?'500':''))"}},"y":{"datum":3.36,"axis":{"title":null,"labels":false,"values":[0.2,0.4,0.6,0.8,1,1.2,1.4,1.6,1.8,2,2.2,2.4,2.6,2.8,3,3.2]}},"text":{"field":"n"}}}]},
{"width":200,"height":200,"transform":[{"filter":"datum.p==4"}],"layer":[{"transform":[{"filter":"isValid(datum.x)"}],"mark":"line","encoding":{"x":{"field":"x","type":"quantitative","scale":{"domain":[-893,1007],"nice":false,"zero":false},"axis":{"title":null,"values":[-750,-500,-250,0,250,500,750],"labelExpr":"datum.value==-500?'-500':(datum.value==0?'0':(datum.value==500?'500':''))"}},"y":{"field":"y","type":"quantitative","scale":{"domain":[0,3.36],"nice":false,"zero":false},"axis":{"title":null,"labels":false,"values":[0.2,0.4,0.6,0.8,1,1.2,1.4,1.6,1.8,2,2.2,2.4,2.6,2.8,3,3.2]}}}},{"transform":[{"filter":"isValid(datum.d)"}],"mark":{"type":"text","dy":8},"encoding":{"x":{"datum":-893,"axis":{"title":null,"values":[-750,-500,-250,0,250,500,750],"labelExpr":"datum.value==-500?'-500':(datum.value==0?'0':(datum.value==500?'500':''))"}},"y":{"datum":3.36,"axis":{"title":null,"labels":false,"values":[0.2,0.4,0.6,0.8,1,1.2,1.4,1.6,1.8,2,2.2,2.4,2.6,2.8,3,3.2]}},"text":{"field":"d"}}},{"transform":[{"filter":"isValid(datum.d)"}],"mark":{"type":"text","dy":25},"encoding":{"x":{"datum":-893,"axis":{"title":null,"values":[-750,-500,-250,0,250,500,750],"labelExpr":"datum.value==-500?'-500':(datum.value==0?'0':(datum.value==500?'500':''))"}},"y":{"datum":3.36,"axis":{"title":null,"labels":false,"values":[0.2,0.4,0.6,0.8,1,1.2,1.4,1.6,1.8,2,2.2,2.4,2.6,2.8,3,3.2]}},"text":{"field":"n"}}}]},
{"width":200,"height":200,"transform":[{"filter":"datum.p==5"}],"layer":[{"transform":[{"filter":"isValid(datum.x)"}],"mark":"line","encoding":{"x":{"field":"x","type":"quantitative","scale":{"domain":[-893,1007],"nice":false,"zero":false},"axis":{"title":null,"values":[-750,-500,-250,0,250,500,750],"labelExpr":"datum.value==-500?'-500':(datum.value==0?'0':(datum.value==500?'500':''))"}},"y":{"field":"y","type":"quantitative","scale":{"domain":[0,3.36],"nice":false,"zero":false},"axis":{"title":null,"labels":false,"values":[0.2,0.4,0.6,0.8,1,1.2,1.4,1.6,1.8,2,2.2,2.4,2.6,2.8,3,3.2]}}}},{"transform":[{"filter":"isValid(datum.d)"}],"mark":{"type":"text","dy":8},"encoding":{"x":{"datum":-893,"axis":{"title":null,"values":[-750,-500,-250,0,250,500,750],"labelExpr":"datum.value==-500?'-500':(datum.value==0?'0':(datum.value==500?'500':''))"}},"y":{"datum":3.36,"axis":{"title":null,"labels":false,"values":[0.2,0.4,0.6,0.8,1,1.2,1.4,1.6,1.8,2,2.2,2.4,2.6,2.8,3,3.2]}},"text":{"field":"d"}}},{"transform":[{"filter":"isValid(datum.d)"}],"mark":{"type":"text","dy":25},"encoding":{"x":{"datum":-893,"axis":{"title":null,"values":[-750,-500,-250,0,250,500,750],"labelExpr":"datum.value==-500?'-500':(datum.value==0?'0':(datum.value==500?'500':''))"}},"y":{"datum":3.36,"axis":{"title":null,"labels":false,"values":[0.2,0.4,0.6,0.8,1,1.2,1.4,1.6,1.8,2,2.2,2.4,2.6,2.8,3,3.2]}},"text":{"field":"n"}}}]},
{"width":200,"height":200,"transform":[{"filter":"datum.p==6"}],"layer":[{"transform":[{"filter":"isValid(datum.x)"}],"mark":"line","encoding":{"x":{"field":"x","type":"quantitative","scale":{"domain":[-893,1007],"nice":false,"zero":false},"axis":{"title":null,"values":[-750,-500,-250,0,250,500,750],"labelExpr":"datum.value==-500?'-500':(datum.value==0?'0':(datum.value==500?'500':''))"}},"y":{"field":"y","type":"quantitative","scale":{"domain":[0,3.36],"nice":false,"zero":false},"axis":{"title":null,"labels":false,"values":[0.2,0.4,0.6,0.8,1,1.2,1.4,1.6,1.8,2,2.2,2.4,2.6,2.8,3,3.2]}}}},{"transform":[{"filter":"isValid(datum.d)"}],"mark":{"type":"text","dy":8},"encoding":{"x":{"datum":-893,"axis":{"title":null,"values":[-750,-500,-250,0,250,500,750],"labelExpr":"datum.value==-500?'-500':(datum.value==0?'0':(datum.value==500?'500':''))"}},"y":{"datum":3.36,"axis":{"title":null,"labels":false,"values":[0.2,0.4,0.6,0.8,1,1.2,1.4,1.6,1.8,2,2.2,2.4,2.6,2.8,3,3.2]}},"text":{"field":"d"}}},{"transform":[{"filter":"isValid(datum.d)"}],"mark":{"type":"text","dy":25},"encoding":{"x":{"datum":-893,"axis":{"title":null,"values":[-750,-500,-250,0,250,500,750],"labelExpr":"datum.value==-500?'-500':(datum.value==0?'0':(datum.value==500?'500':''))"}},"y":{"datum":3.36,"axis":{"title":null,"labels":false,"values":[0.2,0.4,0.6,0.8,1,1.2,1.4,1.6,1.8,2,2.2,2.4,2.6,2.8,3,3.2]}},"text":{"field":"n"}}}]},
{"width":200,"height":200,"transform":[{"filter":"datum.p==7"}],"layer":[{"transform":[{"filter":"isValid(datum.x)"}],"mark":"line","encoding":{"x":{"field":"x","type":"quantitative","scale":{"domain":[-893,1007],"nice":false,"zero":false},"axis":{"title":null,"values":[-750,-500,-250,0,250,500,750],"labelExpr":"datum.value==-500?'-500':(datum.value==0?'0':(datum.value==500?'500':''))"}},"y":{"field":"y","type":"quantitative","scale":{"domain":[0,3.36],"nice":false,"zero":false},"axis":{"title":null,"labels":false,"values":[0.2,0.4,0.6,0.8,1,1.2,1.4,1.6,1.8,2,2.2,2.4,2.6,2.8,3,3.2]}}}},{"transform":[{"filter":"isValid(datum.d)"}],"mark":{"type":"text","dy":8},"encoding":{"x":{"datum":-893,"axis":{"title":null,"values":[-750,-500,-250,0,250,500,750],"labelExpr":"datum.value==-500?'-500':(datum.value==0?'0':(datum.value==500?'500':''))"}},"y":{"datum":3.36,"axis":{"title":null,"labels":false,"values":[0.2,0.4,0.6,0.8,1,1.2,1.4,1.6,1.8,2,2.2,2.4,2.6,2.8,3,3.2]}},"text":{"field":"d"}}},{"transform":[{"filter":"isValid(datum.d)"}],"mark":{"type":"text","dy":25},"encoding":{"x":{"datum":-893,"axis":{"title":null,"values":[-750,-500,-250,0,250,500,750],"labelExpr":"datum.value==-500?'-500':(datum.value==0?'0':(datum.value==500?'500':''))"}},"y":{"datum":3.36,"axis":{"title":null,"labels":false,"values":[0.2,0.4,0.6,0.8,1,1.2,1.4,1.6,1.8,2,2.2,2.4,2.6,2.8,3,3.2]}},"text":{"field":"n"}}}]},
{"width":200,"height":200,"transform":[{"filter":"datum.p==8"}],"layer":[{"transform":[{"filter":"isValid(datum.x)"}],"mark":"line","encoding":{"x":{"field":"x","type":"quantitative","scale":{"domain":[-893,1007],"nice":false,"zero":false},"axis":{"title":null,"values":[-750,-500,-250,0,250,500,750],"labelExpr":"datum.value==-500?'-500':(datum.value==0?'0':(datum.value==500?'500':''))"}},"y":{"field":"y","type":"quantitative","scale":{"domain":[0,3.36],"nice":false,"zero":false},"axis":{"title":null,"labels":false,"values":[0.2,0.4,0.6,0.8,1,1.2,1.4,1.6,1.8,2,2.2,2.4,2.6,2.8,3,3.2]}}}},{"transform":[{"filter":"isValid(datum.d)"}],"mark":{"type":"text","dy":8},"encoding":{"x":{"datum":-893,"axis":{"title":null,"values":[-750,-500,-250,0,250,500,750],"labelExpr":"datum.value==-500?'-500':(datum.value==0?'0':(datum.value==500?'500':''))"}},"y":{"datum":3.36,"axis":{"title":null,"labels":false,"values":[0.2,0.4,0.6,0.8,1,1.2,1.4,1.6,1.8,2,2.2,2.4,2.6,2.8,3,3.2]}},"text":{"field":"d"}}},{"transform":[{"filter":"isValid(datum.d)"}],"mark":{"type":"text","dy":25},"encoding":{"x":{"datum":-893,"axis":{"title":null,"values":[-750,-500,-250,0,250,500,750],"labelExpr":"datum.value==-500?'-500':(datum.value==0?'0':(datum.value==500?'500':''))"}},"y":{"datum":3.36,"axis":{"title":null,"labels":false,"values":[0.2,0.4,0.6,0.8,1,1.2,1.4,1.6,1.8,2,2.2,2.4,2.6,2.8,3,3.2]}},"text":{"field":"n"}}}]},
{"width":200,"height":200,"transform":[{"filter":"datum.p==9"}],"layer":[{"transform":[{"filter":"isValid(datum.x)"}],"mark":"line","encoding":{"x":{"field":"x","type":"quantitative","scale":{"domain":[-893,1007],"nice":false,"zero":false},"axis":{"title":null,"values":[-750,-500,-250,0,250,500,750],"labelExpr":"datum.value==-500?'-500':(datum.value==0?'0':(datum.value==500?'500':''))"}},"y":{"field":"y","type":"quantitative","scale":{"domain":[0,3.36],"nice":false,"zero":false},"axis":{"title":null,"labels":false,"values":[0.2,0.4,0.6,0.8,1,1.2,1.4,1.6,1.8,2,2.2,2.4,2.6,2.8,3,3.2]}}}},{"transform":[{"filter":"isValid(datum.d)"}],"mark":{"type":"text","dy":8},"encoding":{"x":{"datum":-893,"axis":{"title":null,"values":[-750,-500,-250,0,250,500,750],"labelExpr":"datum.value==-500?'-500':(datum.value==0?'0':(datum.value==500?'500':''))"}},"y":{"datum":3.36,"axis":{"title":null,"labels":false,"values":[0.2,0.4,0.6,0.8,1,1.2,1.4,1.6,1.8,2,2.2,2.4,2.6,2.8,3,3.2]}},"text":{"field":"d"}}},{"transform":[{"filter":"isValid(datum.d)"}],"mark":{"type":"text","dy":25},"encoding":{"x":{"datum":-893,"axis":{"title":null,"values":[-750,-500,-250,0,250,500,750],"labelExpr":"datum.value==-500?'-500':(datum.value==0?'0':(datum.value==500?'500':''))"}},"y":{"datum":3.36,"axis":{"title":null,"labels":false,"values":[0.2,0.4,0.6,0.8,1,1.2,1.4,1.6,1.8,2,2.2,2.4,2.6,2.8,3,3.2]}},"text":{"field":"n"}}}]},
{"width":200,"height":200,"transform":[{"filter":"datum.p==10"}],"layer":[{"transform":[{"filter":"isValid(datum.x)"}],"mark":"line","encoding":{"x":{"field":"x","type":"quantitative","scale":{"domain":[-893,1007],"nice":false,"zero":false},"axis":{"title":null,"values":[-750,-500,-250,0,250,500,750],"labelExpr":"datum.value==-500?'-500':(datum.value==0?'0':(datum.value==500?'500':''))"}},"y":{"field":"y","type":"quantitative","scale":{"domain":[0,3.36],"nice":false,"zero":false},"axis":{"title":null,"labels":false,"values":[0.2,0.4,0.6,0.8,1,1.2,1.4,1.6,1.8,2,2.2,2.4,2.6,2.8,3,3.2]}}}},{"transform":[{"filter":"isValid(datum.d)"}],"mark":{"type":"text","dy":8},"encoding":{"x":{"datum":-893,"axis":{"title":null,"values":[-750,-500,-250,0,250,500,750],"labelExpr":"datum.value==-500?'-500':(datum.value==0?'0':(datum.value==500?'500':''))"}},"y":{"datum":3.36,"axis":{"title":null,"labels":false,"values":[0.2,0.4,0.6,0.8,1,1.2,1.4,1.6,1.8,2,2.2,2.4,2.6,2.8,3,3.2]}},"text":{"field":"d"}}},{"transform":[{"filter":"isValid(datum.d)"}],"mark":{"type":"text","dy":25},"encoding":{"x":{"datum":-893,"axis":{"title":null,"values":[-750,-500,-250,0,250,500,750],"labelExpr":"datum.value==-500?'-500':(datum.value==0?'0':(datum.value==500?'500':''))"}},"y":{"datum":3.36,"axis":{"title":null,"labels":false,"values":[0.2,0.4,0.6,0.8,1,1.2,1.4,1.6,1.8,2,2.2,2.4,2.6,2.8,3,3.2]}},"text":{"field":"n"}}}]},
{"width":200,"height":200,"transform":[{"filter":"datum.p==11"}],"layer":[{"transform":[{"filter":"isValid(datum.x)"}],"mark":"line","encoding":{"x":{"field":"x","type":"quantitative","scale":{"domain":[-893,1007],"nice":false,"zero":false},"axis":{"title":null,"values":[-750,-500,-250,0,250,500,750],"labelExpr":"datum.value==-500?'-500':(datum.value==0?'0':(datum.value==500?'500':''))"}},"y":{"field":"y","type":"quantitative","scale":{"domain":[0,3.36],"nice":false,"zero":false},"axis":{"title":null,"labels":false,"values":[0.2,0.4,0.6,0.8,1,1.2,1.4,1.6,1.8,2,2.2,2.4,2.6,2.8,3,3.2]}}}},{"transform":[{"filter":"isValid(datum.d)"}],"mark":{"type":"text","dy":8},"encoding":{"x":{"datum":-893,"axis":{"title":null,"values":[-750,-500,-250,0,250,500,750],"labelExpr":"datum.value==-500?'-500':(datum.value==0?'0':(datum.value==500?'500':''))"}},"y":{"datum":3.36,"axis":{"title":null,"labels":false,"values":[0.2,0.4,0.6,0.8,1,1.2,1.4,1.6,1.8,2,2.2,2.4,2.6,2.8,3,3.2]}},"text":{"field":"d"}}},{"transform":[{"filter":"isValid(datum.d)"}],"mark":{"type":"text","dy":25},"encoding":{"x":{"datum":-893,"axis":{"title":null,"values":[-750,-500,-250,0,250,500,750],"labelExpr":"datum.value==-500?'-500':(datum.value==0?'0':(datum.value==500?'500':''))"}},"y":{"datum":3.36,"axis":{"title":null,"labels":false,"values":[0.2,0.4,0.6,0.8,1,1.2,1.4,1.6,1.8,2,2.2,2.4,2.6,2.8,3,3.2]}},"text":{"field":"n"}}}]},
{"width":200,"height":200,"transform":[{"filter":"datum.p==12"}],"layer":[{"transform":[{"filter":"isValid(datum.x)"}],"mark":"line","encoding":{"x":{"field":"x","type":"quantitative","scale":{"domain":[-893,1007],"nice":false,"zero":false},"axis":{"title":null,"values":[-750,-500,-250,0,250,500,750],"labelExpr":"datum.value==-500?'-500':(datum.value==0?'0':(datum.value==500?'500':''))"}},"y":{"field":"y","type":"quantitative","scale":{"domain":[0,3.36],"nice":false,"zero":false},"axis":{"title":null,"labels":false,"values":[0.2,0.4,0.6,0.8,1,1.2,1.4,1.6,1.8,2,2.2,2.4,2.6,2.8,3,3.2]}}}},{"transform":[{"filter":"isValid(datum.d)"}],"mark":{"type":"text","dy":8},"encoding":{"x":{"datum":-893,"axis":{"title":null,"values":[-750,-500,-250,0,250,500,750],"labelExpr":"datum.value==-500?'-500':(datum.value==0?'0':(datum.value==500?'500':''))"}},"y":{"datum":3.36,"axis":{"title":null,"labels":false,"values":[0.2,0.4,0.6,0.8,1,1.2,1.4,1.6,1.8,2,2.2,2.4,2.6,2.8,3,3.2]}},"text":{"field":"d"}}},{"transform":[{"filter":"isValid(datum.d)"}],"mark":{"type":"text","dy":25},"encoding":{"x":{"datum":-893,"axis":{"title":null,"values":[-750,-500,-250,0,250,500,750],"labelExpr":"datum.value==-500?'-500':(datum.value==0?'0':(datum.value==500?'500':''))"}},"y":{"datum":3.36,"axis":{"title":null,"labels":false,"values":[0.2,0.4,0.6,0.8,1,1.2,1.4,1.6,1.8,2,2.2,2.4,2.6,2.8,3,3.2]}},"text":{"field":"n"}}}]},
{"width":200,"height":200,"transform":[{"filter":"datum.p==13"}],"layer":[{"transform":[{"filter":"isValid(datum.x)"}],"mark":"line","encoding":{"x":{"field":"x","type":"quantitative","scale":{"domain":[-893,1007],"nice":false,"zero":false},"axis":{"title":null,"values":[-750,-500,-250,0,250,500,750],"labelExpr":"datum.value==-500?'-500':(datum.value==0?'0':(datum.value==500?'500':''))"}},"y":{"field":"y","type":"quantitative","scale":{"domain":[0,3.36],"nice":false,"zero":false},"axis":{"title":null,"labels":false,"values":[0.2,0.4,0.6,0.8,1,1.2,1.4,1.6,1.8,2,2.2,2.4,2.6,2.8,3,3.2]}}}},{"transform":[{"filter":"isValid(datum.d)"}],"mark":{"type":"text","dy":8},"encoding":{"x":{"datum":-893,"axis":{"title":null,"values":[-750,-500,-250,0,250,500,750],"labelExpr":"datum.value==-500?'-500':(datum.value==0?'0':(datum.value==500?'500':''))"}},"y":{"datum":3.36,"axis":{"title":null,"labels":false,"values":[0.2,0.4,0.6,0.8,1,1.2,1.4,1.6,1.8,2,2.2,2.4,2.6,2.8,3,3.2]}},"text":{"field":"d"}}},{"transform":[{"filter":"isValid(datum.d)"}],"mark":{"type":"text","dy":25},"encoding":{"x":{"datum":-893,"axis":{"title":null,"values":[-750,-500,-250,0,250,500,750],"labelExpr":"datum.value==-500?'-500':(datum.value==0?'0':(datum.value==500?'500':''))"}},"y":{"datum":3.36,"axis":{"title":null,"labels":false,"values":[0.2,0.4,0.6,0.8,1,1.2,1.4,1.6,1.8,2,2.2,2.4,2.6,2.8,3,3.2]}},"text":{"field":"n"}}}]}
],
"config":{
"view":{"stroke":"black","strokeWidth":2.5},
"line":{"color":"#0000ff","strokeWidth":1.4,"clip":true},
"text":{"align":"left","baseline":"middle","dx":1,"font":"DejaVu Sans","fontSize":13,"color":"black"},
"axisX":{"tickSize":-5,"labelPadding":-14,"labelBaseline":"middle","domain":false,"grid":false,"labelFont":"DejaVu Sans","labelFontSize":12.5,"labelColor":"black","tickColor":"black","tickWidth":1,"labelFlush":false,"labelOverlap":false},
"axisY":{"tickSize":-5,"domain":false,"grid":false,"tickColor":"black","tickWidth":1}
}
}
